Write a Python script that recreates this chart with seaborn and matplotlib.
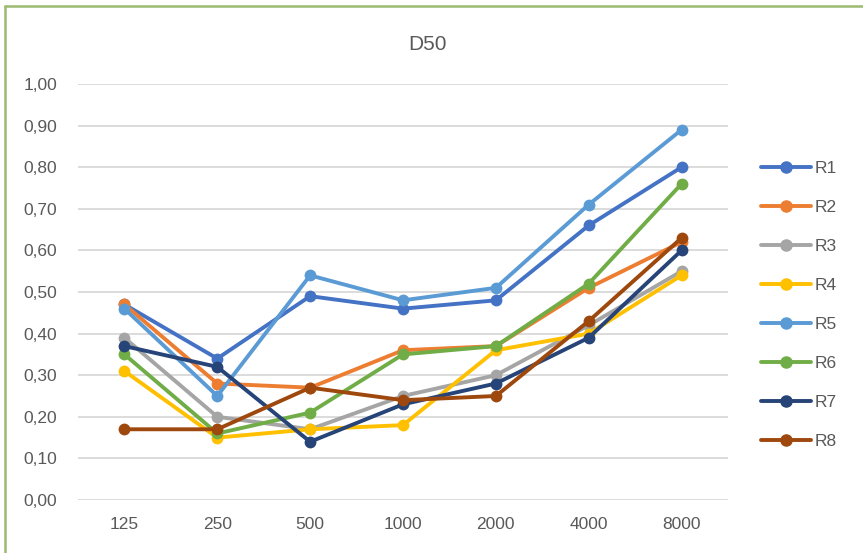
import pandas as pd
import seaborn as sns
import matplotlib.pyplot as plt
from matplotlib.lines import Line2D

# --- data ---
freqs = ["125", "250", "500", "1000", "2000", "4000", "8000"]
r1 = [0.47, 0.34, 0.49, 0.46, 0.48, 0.66, 0.80]
r2 = [0.47, 0.28, 0.27, 0.36, 0.37, 0.51, 0.62]
r3 = [0.39, 0.20, 0.17, 0.25, 0.30, 0.42, 0.55]
r4 = [0.31, 0.15, 0.17, 0.18, 0.36, 0.40, 0.54]
r5 = [0.46, 0.25, 0.54, 0.48, 0.51, 0.71, 0.89]
r6 = [0.35, 0.16, 0.21, 0.35, 0.37, 0.52, 0.76]
r7 = [0.37, 0.32, 0.14, 0.23, 0.28, 0.39, 0.60]
r8 = [0.17, 0.17, 0.27, 0.24, 0.25, 0.43, 0.63]
series_names = ["R1", "R2", "R3", "R4", "R5", "R6", "R7", "R8"]
y_ticks = [0.0, 0.1, 0.2, 0.3, 0.4, 0.5, 0.6, 0.7, 0.8, 0.9, 1.0]
y_labels = ["0,00", "0,10", "0,20", "0,30", "0,40", "0,50", "0,60", "0,70", "0,80", "0,90", "1,00"]

colors = ["#4472C4", "#ED7D31", "#A5A5A5", "#FFC000",
          "#5B9BD5", "#70AD47", "#264478", "#9E480E"]

rows = []
for name, vals in zip(series_names, [r1, r2, r3, r4, r5, r6, r7, r8]):
    for f, v in zip(freqs, vals):
        rows.append({"freq": f, "D50": v, "serie": name})
df = pd.DataFrame(rows)

sns.set_style("white")
plt.rcParams["font.family"] = ["Liberation Sans", "DejaVu Sans"]

W, H = 863, 553
fig = plt.figure(figsize=(W / 100, H / 100), dpi=100)
ax = fig.add_axes([78 / W, 1 - 500 / H, (728 - 78) / W, (500 - 84) / H])

sns.lineplot(data=df, x="freq", y="D50", hue="serie", palette=colors,
             marker="o", markersize=8.5, markeredgewidth=0, linewidth=2.8,
             sort=False, legend=False, ax=ax)

ax.set_xlim(-0.5, 6.5)
ax.set_ylim(0, 1.0)
ax.set_yticks(y_ticks)
ax.set_yticklabels(y_labels)
ax.grid(axis="y", color="#d9d9d9", linewidth=1.3)
ax.set_axisbelow(True)
for s in ax.spines.values():
    s.set_visible(False)
ax.tick_params(axis="both", length=0, labelsize=12.5, colors="#595959")
ax.tick_params(axis="y", pad=15)
ax.tick_params(axis="x", pad=12)
ax.set_xlabel("")
ax.set_ylabel("")

fig.text(427 / W, 1 - 45 / H, "D50", ha="center", va="center",
         fontsize=15, color="#595959")

# legend on the right
handles = [Line2D([0], [0], color=c, linewidth=2.8, marker="o", markersize=8)
           for c in colors]
fig.legend(handles, series_names, loc="upper left",
           bbox_to_anchor=(761 / W, 1 - 161 / H), frameon=False,
           borderpad=0, borderaxespad=0,
           fontsize=12.5, labelcolor="#595959", labelspacing=1.37,
           handlelength=2.9, handletextpad=0.2)

# thin green frame around the chart
fig.add_artist(Line2D([5 / W, 5 / W], [0, 1 - 6 / H], transform=fig.transFigure,
                      color="#9bbb70", linewidth=1.8))
fig.add_artist(Line2D([5 / W, 1], [1 - 6 / H, 1 - 6 / H], transform=fig.transFigure,
                      color="#9bbb70", linewidth=1.8))

fig.savefig("out.png", dpi=100)
